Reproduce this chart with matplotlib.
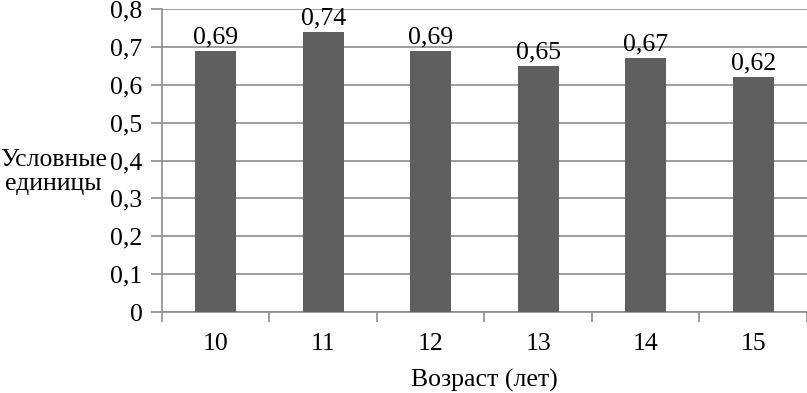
import matplotlib.pyplot as plt
import numpy as np

ages = ["10", "11", "12", "13", "14", "15"]
values = [0.69, 0.74, 0.69, 0.65, 0.67, 0.62]
y_ticks = [0, 0.1, 0.2, 0.3, 0.4, 0.5, 0.6, 0.7, 0.8]

plt.rcParams["font.family"] = ["Liberation Serif", "DejaVu Serif"]
FS = 18.5

fig = plt.figure(figsize=(8.07, 3.93), dpi=100)
ax = fig.add_axes([0.2007, 0.206, 0.7993, 0.771])

x = np.arange(len(ages))
ax.bar(x, values, width=0.38, color="#5f5f5f", zorder=3)

for xi, v in zip(x, values):
    ax.text(xi, v + 0.007, f"{v:.2f}".replace(".", ","), ha="center", va="bottom",
            fontsize=FS, zorder=4)

ax.set_xlim(-0.5, len(ages) - 0.5)
ax.set_ylim(0, 0.8)
ax.set_yticks(y_ticks)
ax.set_yticklabels([f"{t:g}".replace(".", ",") for t in y_ticks], fontsize=FS)
ax.yaxis.grid(True, color="#8c8c8c", linewidth=1.2, zorder=0)

ax.set_xticks(x)
ax.set_xticklabels(ages, fontsize=FS)
ax.tick_params(axis="x", length=0, pad=15)
ax.set_xticks(np.arange(-0.5, len(ages)), minor=True)
ax.tick_params(axis="x", which="minor", length=7, color="#8c8c8c", width=1.2)
ax.tick_params(axis="y", length=8, color="#8c8c8c", width=1.2, pad=6)

for side in ["top", "right"]:
    ax.spines[side].set_visible(False)
ax.spines["left"].set_color("#8c8c8c")
ax.spines["bottom"].set_color("#8c8c8c")
ax.spines["left"].set_linewidth(1.2)
ax.spines["bottom"].set_linewidth(1.2)

ax.set_xlabel("Возраст (лет)", fontsize=FS, labelpad=10)
fig.text(0.0665, 0.562, "Условные\nединицы", ha="center", va="center",
         fontsize=FS, linespacing=1.1)

fig.savefig("out.png", dpi=100)
